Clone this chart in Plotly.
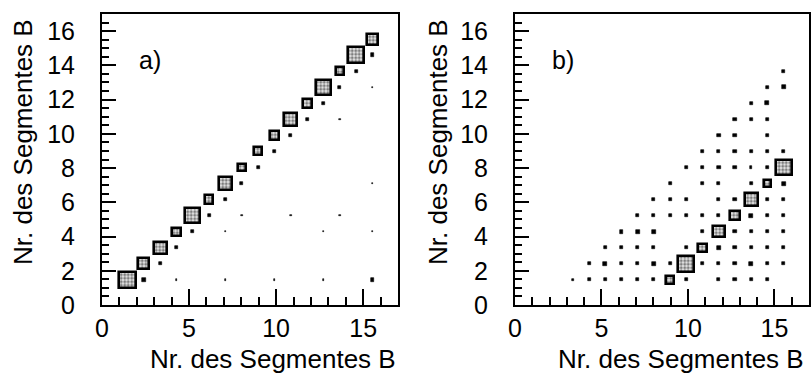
import plotly.graph_objects as go

# ---- histogram binning (16 bins between 1 and 16 on both axes) ----
NBINS = 16
LO, HI = 1.0, 16.0

# ---- panel a) cell contents (column index, row index, content) ----
a_cols = [0, 1, 2, 3, 4, 5, 6, 7, 8, 9, 10, 11, 12, 13, 14, 15,
          1, 2, 3, 4, 5, 6, 7, 8, 9, 10, 11, 12, 13, 14, 15,
          3, 6, 9, 12, 15, 6, 12, 15, 7, 10, 13, 15, 13, 15]
a_rows = [0, 1, 2, 3, 4, 5, 6, 7, 8, 9, 10, 11, 12, 13, 14, 15,
          0, 1, 2, 3, 4, 5, 6, 7, 8, 9, 10, 11, 12, 13, 14,
          0, 0, 0, 0, 0, 3, 3, 3, 4, 4, 4, 6, 10, 12]
a_vals = [100, 68, 78, 52, 92, 52, 78, 46, 50, 60, 80, 56, 92, 50, 98, 68,
          22, 19, 19, 18, 19, 18, 20, 19, 18, 18, 19, 18, 19, 19, 23,
          9, 9, 9, 9, 22, 9, 9, 9, 9, 9, 9, 9, 9, 9]

# ---- panel b) cell contents ----
b_cols = [8, 9, 10, 11, 12, 13, 14, 15,
          2, 3, 4, 5, 6, 7, 9, 11, 12, 13, 14,
          3, 4, 5, 6, 7, 8, 10, 11, 12, 13, 14, 15,
          4, 5, 6, 7, 9, 11, 12, 13, 14, 15,
          5, 6, 7, 10, 12, 13, 14, 15,
          6, 7, 8, 9, 10, 11, 13, 14, 15,
          7, 8, 9, 11, 12, 14, 15,
          8, 10, 11, 13, 15,
          9, 10, 11, 12, 13, 14,
          10, 11, 12, 13, 14, 15,
          11, 12, 14,
          12, 13, 14,
          13, 14,
          14, 15,
          15]
b_rows = [0, 1, 2, 3, 4, 5, 6, 7,
          0, 0, 0, 0, 0, 0, 0, 0, 0, 0, 0,
          1, 1, 1, 1, 1, 1, 1, 1, 1, 1, 1, 1,
          2, 2, 2, 2, 2, 2, 2, 2, 2, 2,
          3, 3, 3, 3, 3, 3, 3, 3,
          4, 4, 4, 4, 4, 4, 4, 4, 4,
          5, 5, 5, 5, 5, 5, 5,
          6, 6, 6, 6, 6,
          7, 7, 7, 7, 7, 7,
          8, 8, 8, 8, 8, 8,
          9, 9, 9,
          10, 10, 10,
          11, 11,
          12, 12,
          13]
b_vals = [52, 100, 52, 72, 60, 82, 45, 98,
          15, 19, 19, 19, 19, 19, 19, 19, 19, 19, 19,
          19, 24, 19, 19, 24, 19, 19, 19, 19, 24, 19, 19,
          19, 19, 19, 19, 19, 24, 19, 19, 19, 19,
          24, 24, 24, 19, 19, 19, 19, 19,
          19, 19, 19, 19, 19, 19, 24, 19, 19,
          19, 19, 19, 19, 19, 19, 19,
          19, 19, 19, 19, 24,
          19, 19, 24, 19, 15, 15,
          19, 19, 19, 19, 15, 19,
          24, 19, 19,
          19, 19, 19,
          19, 24,
          19, 24,
          19]

BOX_THRESHOLD = 30
TICK_X = [0, 5, 10, 15]
TICK_Y = [0, 2, 4, 6, 8, 10, 12, 14, 16]
TITLE = "Nr. des Segmentes B"
FONT = "Liberation Sans, Arial, sans-serif"

bw = (HI - LO) / NBINS


def cell_traces(cols, rows, vals, xa, ya):
    vmax = max(vals)
    bx, by, bs = [], [], []
    dx, dy, ds = [], [], []
    for c, r, v in zip(cols, rows, vals):
        cx = LO + (c + 0.5) * bw
        cy = LO + (r + 0.5) * bw
        s = v / vmax * bw
        if v >= BOX_THRESHOLD:
            bx.append(cx); by.append(cy); bs.append(s)
        else:
            dx.append(cx); dy.append(cy); ds.append(s)
    boxes = go.Bar(
        x=bx, y=bs, base=[y - s / 2 for y, s in zip(by, bs)], width=bs,
        xaxis=xa, yaxis=ya, hoverinfo="skip", showlegend=False,
        marker=dict(color="#808080", line=dict(color="black", width=2.6),
                    pattern=dict(shape=".", fgcolor="#111111", bgcolor="#e8e8e8",
                                 size=3.5, solidity=0.55)),
    )
    dots = go.Bar(
        x=dx, y=ds, base=[y - s / 2 for y, s in zip(dy, ds)], width=ds,
        xaxis=xa, yaxis=ya, hoverinfo="skip", showlegend=False,
        marker=dict(color="black", line=dict(color="black", width=0.6)),
    )
    return [dots, boxes]


fig = go.Figure()
for t in cell_traces(a_cols, a_rows, a_vals, "x", "y"):
    fig.add_trace(t)
for t in cell_traces(b_cols, b_rows, b_vals, "x2", "y2"):
    fig.add_trace(t)

W, H = 812, 374
ydom = [(H - 305) / H, (H - 14) / H]

axis_common = dict(
    range=[0, 17], showgrid=False, zeroline=False, showline=True,
    linecolor="black", linewidth=2, mirror=True, ticks="inside",
    tickcolor="black", tickwidth=2, automargin=False,
    tickfont=dict(family=FONT, size=25, color="black"),
)
minor_x = dict(dtick=1, tick0=0, ticks="inside", ticklen=8,
               tickcolor="black", tickwidth=2)
minor_y = dict(dtick=0.5, tick0=0, ticks="inside", ticklen=7,
               tickcolor="black", tickwidth=1.8)

fig.update_layout(
    width=W, height=H, margin=dict(l=0, r=0, t=0, b=0),
    paper_bgcolor="white", plot_bgcolor="white",
    barmode="overlay", bargap=0, showlegend=False,
    font=dict(family=FONT, color="black"),
    xaxis=dict(domain=[102 / W, 398 / W], anchor="y", tickmode="array",
               tickvals=TICK_X, ticklen=16, ticklabelstandoff=0,
               minor=minor_x, **axis_common),
    yaxis=dict(domain=ydom, anchor="x", tickmode="array",
               tickvals=TICK_Y, ticklen=14, ticklabelstandoff=20,
               minor=minor_y, **axis_common),
    xaxis2=dict(domain=[515 / W, 809 / W], anchor="y2", tickmode="array",
                tickvals=TICK_X, ticklen=16, ticklabelstandoff=0,
                minor=minor_x, **axis_common),
    yaxis2=dict(domain=ydom, anchor="x2", tickmode="array",
                tickvals=TICK_Y, ticklen=14, ticklabelstandoff=20,
                minor=minor_y, **axis_common),
)

ann_font = dict(family=FONT, size=26, color="black")
fig.add_annotation(text=TITLE, xref="paper", yref="paper", x=398 / W, y=(H - 359) / H,
                   xanchor="right", yanchor="middle", showarrow=False, font=ann_font)
fig.add_annotation(text=TITLE, xref="paper", yref="paper", x=806 / W, y=(H - 359) / H,
                   xanchor="right", yanchor="middle", showarrow=False, font=ann_font)
fig.add_annotation(text=TITLE, xref="paper", yref="paper", x=23 / W, y=(H - 142) / H,
                   xanchor="center", yanchor="middle", textangle=-90,
                   showarrow=False, font=ann_font)
fig.add_annotation(text=TITLE, xref="paper", yref="paper", x=438 / W, y=(H - 142) / H,
                   xanchor="center", yanchor="middle", textangle=-90,
                   showarrow=False, font=ann_font)
fig.add_annotation(text="a)", xref="x", yref="y", x=2.0, y=14.3, xanchor="left",
                   yanchor="middle", showarrow=False,
                   font=dict(family=FONT, size=25, color="black"))
fig.add_annotation(text="b)", xref="x2", yref="y2", x=2.0, y=14.3, xanchor="left",
                   yanchor="middle", showarrow=False,
                   font=dict(family=FONT, size=25, color="black"))

fig.write_html("out.html")
